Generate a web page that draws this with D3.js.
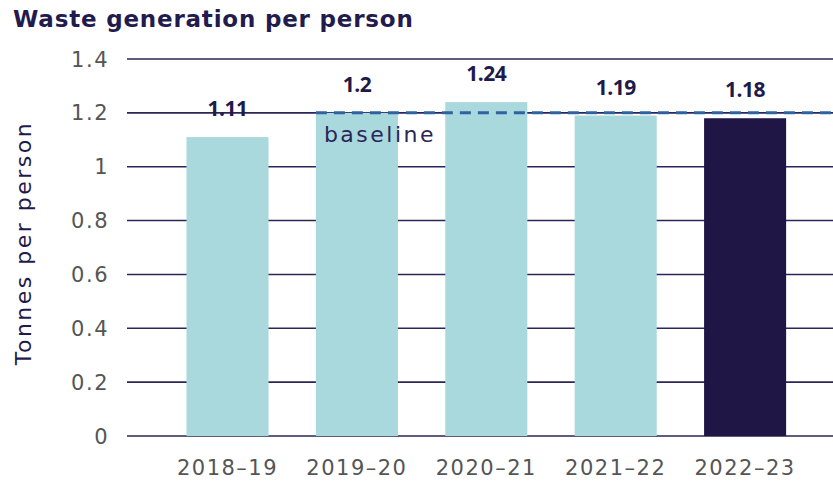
<!DOCTYPE html>
<html>
<head>
<meta charset="utf-8">
<script src="https://cdn.jsdelivr.net/npm/d3@7"></script>
<style>
  body { margin: 0; background: #fff; }
  svg { display: block; font-family: "DejaVu Sans", sans-serif; }
</style>
</head>
<body>
<svg width="833" height="481"></svg>
<script>
var years = ["2018–19", "2019–20", "2020–21", "2021–22", "2022–23"];
var tonnes = [1.11, 1.2, 1.24, 1.19, 1.18];
var yTicks = [0, 0.2, 0.4, 0.6, 0.8, 1, 1.2, 1.4];
var baseline = 1.2;

var svg = d3.select("svg"),
    width = +svg.attr("width");

var x = d3.scaleBand()
    .domain(years)
    .range([162.8, 809.8])
    .paddingInner(0.366)
    .paddingOuter(0.183);

var y = d3.scaleLinear()
    .domain([0, 1.4])
    .range([436, 59]);

// gridlines
svg.append("g")
  .selectAll("line")
  .data(yTicks)
  .enter().append("line")
    .attr("x1", 127)
    .attr("x2", width)
    .attr("y1", function(d) { return y(d); })
    .attr("y2", function(d) { return y(d); })
    .style("stroke", "#2b2656")
    .style("stroke-width", 1.6);

// y tick labels
svg.append("g")
  .selectAll("text")
  .data(yTicks)
  .enter().append("text")
    .attr("x", 109)
    .attr("y", function(d) { return y(d); })
    .attr("dy", "0.36em")
    .attr("text-anchor", "end")
    .style("font-size", "21px")
    .style("letter-spacing", "1.5px")
    .style("fill", "#555")
    .text(function(d) { return +d.toFixed(1); });

// bars
svg.append("g")
  .selectAll("rect")
  .data(tonnes)
  .enter().append("rect")
    .attr("x", function(d, i) { return x(years[i]); })
    .attr("y", function(d) { return y(d); })
    .attr("width", x.bandwidth())
    .attr("height", function(d) { return y(0) - y(d); })
    .style("fill", function(d, i) { return i === years.length - 1 ? "#1f1646" : "#a9d8dd"; });

// baseline
svg.append("line")
    .attr("x1", x(years[1]))
    .attr("x2", width)
    .attr("y1", y(baseline))
    .attr("y2", y(baseline))
    .style("stroke", "#2f63a0")
    .style("stroke-width", 3)
    .style("stroke-dasharray", "11,7");

svg.append("text")
    .attr("x", x(years[1]) + 8)
    .attr("y", y(baseline) + 29)
    .style("font-size", "22px")
    .style("letter-spacing", "2.5px")
    .style("fill", "#2b2656")
    .text("baseline");

// value labels
svg.append("g")
  .selectAll("text")
  .data(tonnes)
  .enter().append("text")
    .attr("x", function(d, i) { return x(years[i]) + x.bandwidth() / 2; })
    .attr("y", function(d) { return y(d) - 21; })
    .attr("text-anchor", "middle")
    .style("font-family", "'Open Sans', sans-serif")
    .style("font-size", "21px")
    .style("font-weight", "bold")
    .style("letter-spacing", "-0.5px")
    .style("fill", "#1f1a4a")
    .text(function(d) { return d; });

// x labels
svg.append("g")
  .selectAll("text")
  .data(years)
  .enter().append("text")
    .attr("x", function(d) { return x(d) + x.bandwidth() / 2; })
    .attr("y", 475)
    .attr("text-anchor", "middle")
    .style("font-size", "21px")
    .style("letter-spacing", "1.5px")
    .style("fill", "#555")
    .text(function(d) { return d; });

// axis title
svg.append("text")
    .attr("transform", "translate(31,243) rotate(-90)")
    .attr("text-anchor", "middle")
    .style("font-size", "22px")
    .style("letter-spacing", "2.5px")
    .style("fill", "#1f1a4a")
    .text("Tonnes per person");

// chart title
svg.append("text")
    .attr("x", 13)
    .attr("y", 27)
    .style("font-size", "23px")
    .style("font-weight", "bold")
    .style("letter-spacing", "0.8px")
    .style("fill", "#221c4e")
    .text("Waste generation per person");
</script>
</body>
</html>
